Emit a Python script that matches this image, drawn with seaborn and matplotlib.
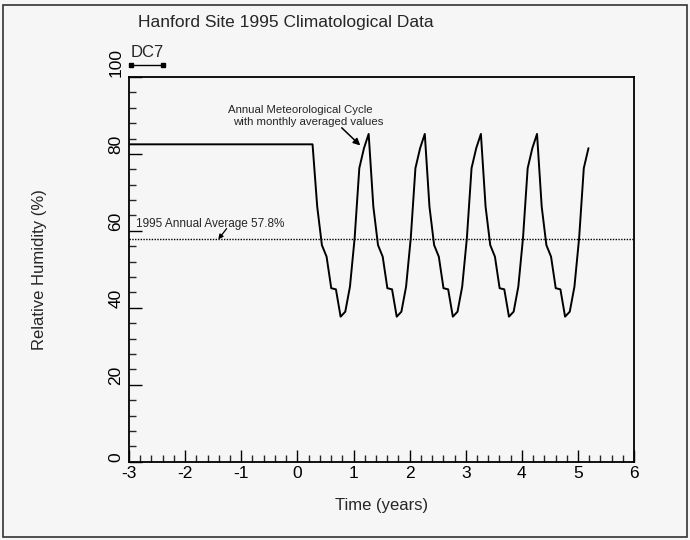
import numpy as np
import pandas as pd
import matplotlib.pyplot as plt
import matplotlib.patches as mpatches
from matplotlib.ticker import MultipleLocator
import seaborn as sns

# Data
flat_start = -3.0          # years
cycle_start = 0.27         # years, end of the constant pre-cycle value
flat_rh = 82.5             # % RH before the cycle starts
# monthly averaged relative humidity, starting at the annual peak
monthly_rh = [85.2, 66.3, 56.3, 53.3, 45.1, 44.8, 37.7, 39.0, 45.5, 58.1, 76.3, 81.5]
n_months = 59
annual_avg = 57.8

x_ticks = [-3, -2, -1, 0, 1, 2, 3, 4, 5, 6]
y_ticks = [0, 20, 40, 60, 80, 100]

# Build the time series (flat segment, then the repeated monthly cycle)
times = [flat_start, cycle_start]
values = [flat_rh, flat_rh]
for k in range(1, n_months + 1):
    times.append(cycle_start + k / 12.0)
    values.append(monthly_rh[k % 12])
df = pd.DataFrame({'time': times, 'rh': values})

sns.set_style('ticks')
plt.rcParams['font.family'] = ['Liberation Sans', 'DejaVu Sans']
plt.rcParams['axes.unicode_minus'] = False

bg = '#f6f6f6'
fig = plt.figure(figsize=(6.9, 5.4), dpi=100, facecolor=bg)
ax = fig.add_axes([0.187, 0.145, 0.732, 0.7124], facecolor=bg)

# Main curve
sns.lineplot(data=df, x='time', y='rh', color='black', linewidth=1.4, ax=ax)

# Annual average dotted line
ax.axhline(annual_avg, color='black', linestyle=(0, (1, 1)), linewidth=1.0)

ax.set_xlim(-3, 6)
ax.set_ylim(0, 100)
ax.set_xticks(x_ticks)
ax.set_yticks(y_ticks)
ax.xaxis.set_minor_locator(MultipleLocator(0.2))
ax.yaxis.set_minor_locator(MultipleLocator(4))
ax.tick_params(axis='both', which='major', direction='in', length=9, width=1.0,
               labelsize=12.5, colors='black', pad=3)
ax.tick_params(axis='both', which='minor', direction='in', length=5, width=1.0)
ax.tick_params(axis='y', pad=4)
for lab in ax.get_yticklabels():
    lab.set_rotation(90)
    lab.set_va('bottom')
    lab.set_ha('right')

for side in ['top', 'right', 'bottom', 'left']:
    ax.spines[side].set_visible(True)
    ax.spines[side].set_linewidth(1.3)
    ax.spines[side].set_color('black')

ax.set_xlabel('Time (years)', fontsize=12, labelpad=12)
ax.set_ylabel('Relative Humidity (%)', fontsize=12, labelpad=44)

# Annotations
ax.text(-2.87, 60.9, '1995 Annual Average 57.8%', fontsize=8.5, ha='left', va='baseline')
ax.annotate('', xy=(-1.41, annual_avg), xytext=(-1.26, 60.6),
            arrowprops=dict(arrowstyle='-|>', color='black', lw=0.9,
                            shrinkA=0, shrinkB=0, mutation_scale=7))
ax.text(-1.23, 90.7, 'Annual Meteorological Cycle', fontsize=8.2, ha='left', va='baseline')
ax.text(-1.15, 87.5, 'with monthly averaged values', fontsize=8.2, ha='left', va='baseline')
ax.annotate('', xy=(1.12, 82.2), xytext=(0.79, 86.8),
            arrowprops=dict(arrowstyle='-|>', color='black', lw=1.1,
                            shrinkA=0, shrinkB=0, mutation_scale=10))

# Title and DC7 key
fig.text(138 / 690, 1 - 22 / 540, 'Hanford Site 1995 Climatological Data',
         fontsize=12.5, ha='left', va='center')
ax.text(0.003, 1.045, 'DC7', transform=ax.transAxes, fontsize=12, ha='left', va='bottom')
ax.plot([0.003, 0.068], [1.031, 1.031], transform=ax.transAxes, color='black',
        linewidth=1.0, marker='s', markersize=3.5, markerfacecolor='black',
        markeredgecolor='black', clip_on=False)

# Page frame
fig.add_artist(mpatches.Rectangle((0.004, 0.006), 0.992, 0.985, transform=fig.transFigure,
                                  fill=False, edgecolor='#333333', linewidth=1.2))

fig.savefig('out.png', dpi=100, facecolor=bg)
